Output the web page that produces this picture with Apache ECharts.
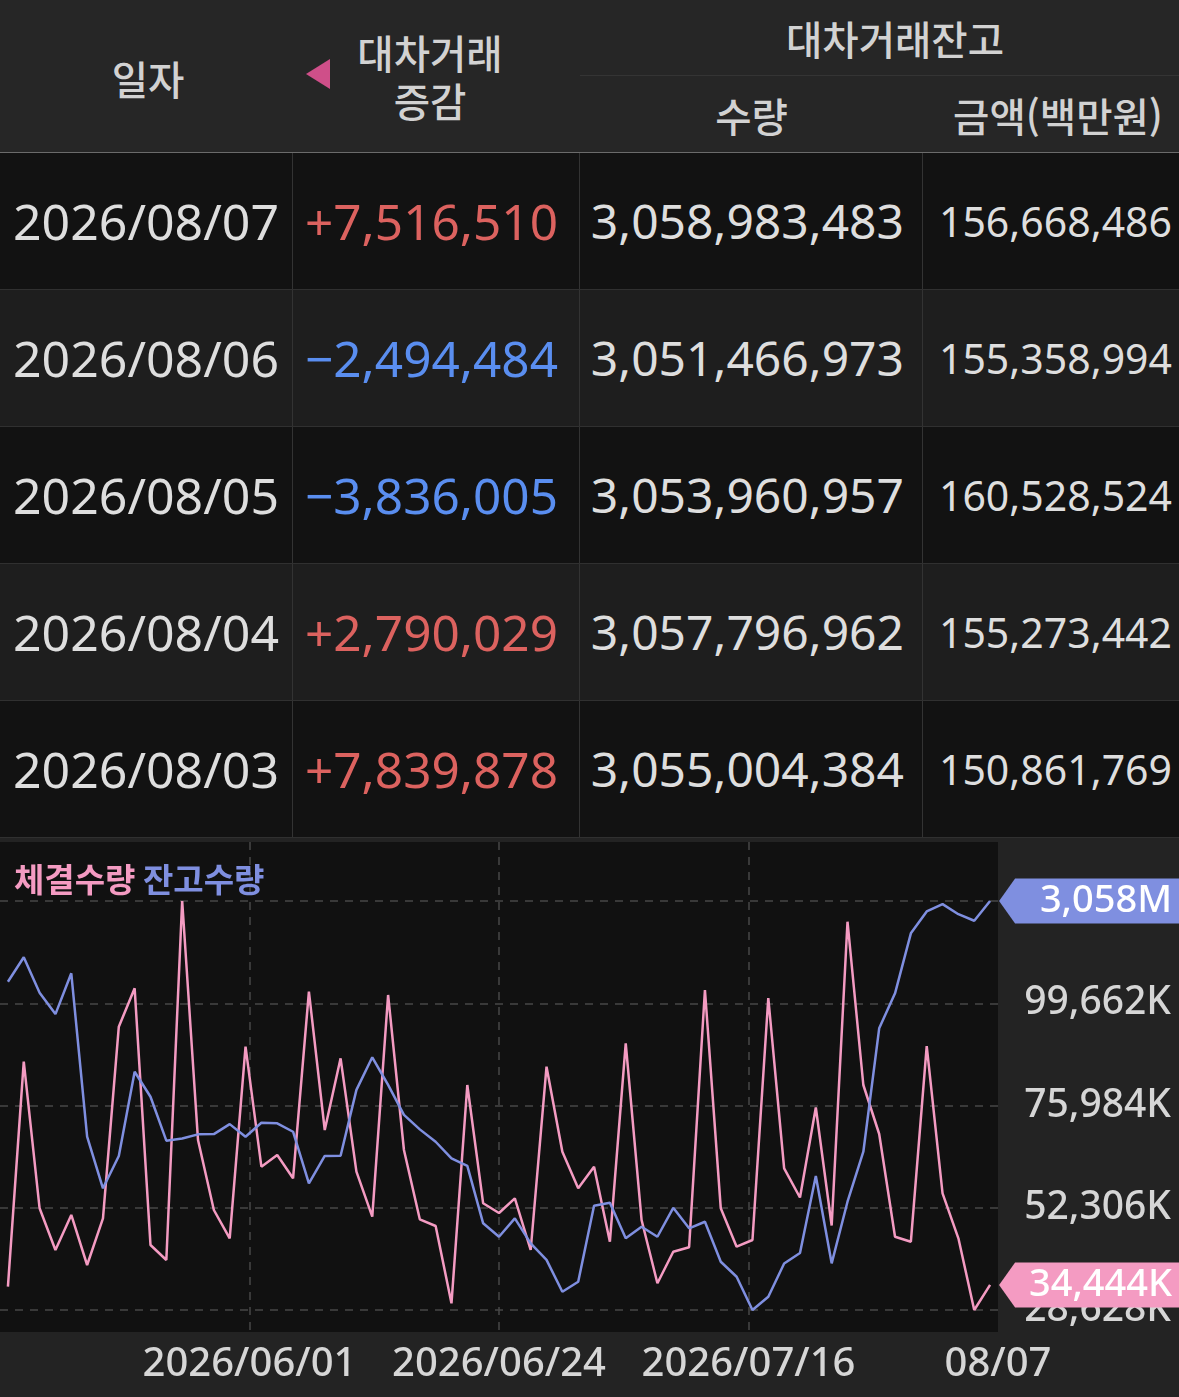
<!DOCTYPE html>
<html lang="ko">
<head>
<meta charset="utf-8">
<title>대차거래</title>
<script src="https://cdn.jsdelivr.net/npm/echarts@6.0.0/dist/echarts.min.js"></script>
<style>
html, body { margin:0; padding:0; background:#232323; }
body { width:1179px; height:1397px; overflow:hidden; position:relative;
       font-family:"Noto Sans","Noto Sans CJK KR",sans-serif; }
#head { position:absolute; left:0; top:0; width:1179px; height:152px; background:#262626;
        border-bottom:1px solid #6b6b6b; color:#d2d2d2; font-family:"Noto Sans CJK KR"; font-size:39.5px; font-weight:500; }
.h { position:absolute; text-align:center; line-height:48px; white-space:nowrap; }
.tri { position:absolute; left:306px; top:59px; width:0; height:0;
       border-top:15px solid transparent; border-bottom:15px solid transparent; border-right:24px solid #cf4f89; }
.subline { position:absolute; left:580px; right:0; top:75px; height:1px; background:#343434; }
#rows { position:absolute; left:0; top:153px; width:1179px; }
.row { position:relative; height:136px; border-bottom:1px solid #303030; }
.row.odd { background:#121212; }
.row.even { background:#1e1e1e; }
.cell { position:absolute; top:0; height:136px; line-height:136px; color:#dedede; white-space:nowrap; box-sizing:border-box; }
.c0 { left:0; width:293px; text-align:center; font-size:50px; border-right:1px solid #333; }
.c1 { left:293px; width:287px; text-align:right; padding-right:21px; font-size:49.5px; border-right:1px solid #333; }
.c2 { left:580px; width:343px; text-align:right; padding-right:18px; font-size:48px; border-right:1px solid #333; }
.c3 { left:923px; width:256px; text-align:right; padding-right:7px; font-size:41px; }
.up { color:#dc625f; }
.down { color:#5a8ef0; }
#chart { position:absolute; left:0; top:838px; width:1179px; height:559px; }
</style>
</head>
<body>
<div id="head">
  <div class="h" style="left:0;width:296px;top:54px;">일자</div>
  <div class="tri"></div>
  <div class="h" style="left:330px;width:200px;top:28px;">대차거래<br>증감</div>
  <div class="h" style="left:745px;width:300px;top:14px;">대차거래잔고</div>
  <div class="subline"></div>
  <div class="h" style="left:580px;width:343px;top:91px;">수량</div>
  <div class="h" style="left:938px;width:240px;top:91px;">금액(백만원)</div>
</div>
<div id="rows"></div>
<div id="chart"></div>
<script>
// table (latest first)
var tableDates = ['2026/08/07', '2026/08/06', '2026/08/05', '2026/08/04', '2026/08/03'];
var tableChange = [7516510, -2494484, -3836005, 2790029, 7839878];
var tableBalQty = [3058983483, 3051466973, 3053960957, 3057796962, 3055004384];
var tableBalAmt = [156668486, 155358994, 160528524, 155273442, 150861769];

// chart: trading days
var dates = [
  '2026/05/08','2026/05/11','2026/05/12','2026/05/13','2026/05/14','2026/05/15','2026/05/18','2026/05/19',
  '2026/05/20','2026/05/21','2026/05/22','2026/05/26','2026/05/27','2026/05/28','2026/05/29','2026/06/01',
  '2026/06/02','2026/06/04','2026/06/05','2026/06/08','2026/06/09','2026/06/10','2026/06/11','2026/06/12',
  '2026/06/15','2026/06/16','2026/06/17','2026/06/18','2026/06/19','2026/06/22','2026/06/23','2026/06/24',
  '2026/06/25','2026/06/26','2026/06/29','2026/06/30','2026/07/01','2026/07/02','2026/07/03','2026/07/06',
  '2026/07/07','2026/07/08','2026/07/09','2026/07/10','2026/07/13','2026/07/14','2026/07/15','2026/07/16',
  '2026/07/20','2026/07/21','2026/07/22','2026/07/23','2026/07/24','2026/07/27','2026/07/28','2026/07/29',
  '2026/07/30','2026/07/31','2026/08/03','2026/08/04','2026/08/05','2026/08/06','2026/08/07'
];
// 체결수량 (K shares)
var execVolK = [
  34024, 86127, 52179, 42522, 50628, 39049, 49863, 94232,
  103124, 43680, 40207, 123340, 67995, 51785, 45231, 89600,
  61812, 64521, 59126, 102337, 70311, 86914, 60654, 50233,
  101573, 65679, 49631, 48080, 30179, 80731, 53336, 51090,
  54494, 42522, 84969, 65286, 56810, 61812, 44444, 90388,
  49469, 34811, 42128, 43148, 102730, 52179, 43286, 44838,
  100878, 61441, 54680, 75521, 48196, 118547, 80731, 69384,
  45602, 44444, 89716, 55652, 45231, 28628, 34444
];
// 잔고수량 (M shares)
var balanceM = [
  3028.3, 3037.6, 3024.1, 3016.0, 3031.5, 2969.4, 2949.8, 2962.1,
  2994.1, 2984.6, 2967.9, 2968.7, 2970.3, 2970.4, 2974.2, 2969.4,
  2974.7, 2974.5, 2971.3, 2951.7, 2962.1, 2962.2, 2987.2, 2999.6,
  2989.1, 2977.7, 2972.2, 2967.5, 2961.2, 2958.3, 2936.5, 2931.4,
  2938.4, 2928.9, 2922.6, 2910.5, 2914.3, 2943.2, 2944.3, 2930.8,
  2935.2, 2931.4, 2942.4, 2934.6, 2937.1, 2921.9, 2916.2, 2903.56,
  2908.6, 2921.2, 2925.2, 2954.5, 2921.3, 2944.7, 2963.7, 3010.6,
  3023.9, 3046.7, 3055.004, 3057.797, 3053.961, 3051.467, 3058.983
];
var volTicksK = [28628, 52306, 75984, 99662, 123340];
var seriesNames = ['체결수량', '잔고수량'];

var PINK = '#f49bc2';
var BLUE = '#7f8fe0';
var fmt = function (v) { return Math.floor(v).toLocaleString('en-US'); };

// build table
var rowsHtml = '';
for (var i = 0; i < tableDates.length; i++) {
  var ch = tableChange[i];
  var chText = (ch >= 0 ? '+' : '\u2212') + Math.abs(ch).toLocaleString('en-US');
  rowsHtml += '<div class="row ' + (i % 2 ? 'even' : 'odd') + '">' +
    '<div class="cell c0">' + tableDates[i] + '</div>' +
    '<div class="cell c1 ' + (ch >= 0 ? 'up' : 'down') + '">' + chText + '</div>' +
    '<div class="cell c2">' + tableBalQty[i].toLocaleString('en-US') + '</div>' +
    '<div class="cell c3">' + tableBalAmt[i].toLocaleString('en-US') + '</div></div>';
}
document.getElementById('rows').innerHTML = rowsHtml;

var chart = echarts.init(document.getElementById('chart'));
var last = dates.length - 1;
var TAG = 'path://M0,22.5L16,0L182,0L182,45L16,45Z';
var font = '"Noto Sans", "Noto Sans CJK KR", sans-serif';
var gridLine = { color: '#474747', type: [8, 7], width: 1.5 };
var keyFont = { fontSize: 33, fontWeight: 'bold', fontFamily: 'Noto Sans CJK KR' };

var option = {
  backgroundColor: '#232323',
  animation: false,
  textStyle: { fontFamily: font },
  title: {
    left: 14, top: 25, padding: 0,
    text: '{p|' + seriesNames[0] + '} {b|' + seriesNames[1] + '}',
    textStyle: {
      fontSize: 33, fontWeight: 'bold', fontFamily: 'Noto Sans CJK KR',
      rich: {
        p: Object.assign({ color: PINK }, keyFont),
        b: Object.assign({ color: BLUE }, keyFont)
      }
    }
  },
  grid: [
    { left: 0, top: 4, width: 998, height: 490, show: true, backgroundColor: '#111111', borderWidth: 0 },
    { left: 0, top: 63, width: 998, height: 409 }
  ],
  xAxis: [
    {
      type: 'value', gridIndex: 0, min: 0, max: 4, interval: 1,
      axisLine: { show: false }, axisTick: { show: false },
      splitLine: { show: true, showMinLine: false, showMaxLine: false, lineStyle: gridLine },
      axisLabel: {
        margin: 13, fontSize: 40, color: '#d6d6d6', fontWeight: 500, showMinLabel: false,
        formatter: function (q) {
          var idx = Math.min(Math.floor(q * dates.length / 4), last);
          return q === 4 ? dates[idx].slice(5) : dates[idx];
        }
      }
    },
    { type: 'category', gridIndex: 1, data: dates, boundaryGap: true, show: false }
  ],
  yAxis: [
    {
      type: 'value', gridIndex: 1, position: 'right',
      min: volTicksK[0], max: volTicksK[volTicksK.length - 1],
      axisLine: { show: false },
      axisTick: { show: false, customValues: volTicksK },
      axisLabel: {
        // top tick sits under the balance tag, so it carries no label
        customValues: volTicksK.slice(0, -1), align: 'right', margin: 173,
        fontSize: 39, color: '#d6d6d6', fontWeight: 500,
        formatter: function (v) { return fmt(v) + 'K'; }
      },
      splitLine: { show: true, lineStyle: gridLine }
    },
    { type: 'value', gridIndex: 1, min: 'dataMin', max: 'dataMax', show: false },
    { type: 'value', gridIndex: 0, min: 0, max: 1, show: false }
  ],
  series: [
    {
      name: seriesNames[0], type: 'line', xAxisIndex: 1, yAxisIndex: 0,
      data: execVolK, symbol: 'none', clip: false, silent: true,
      lineStyle: { color: PINK, width: 2.5 }, itemStyle: { color: PINK },
      emphasis: { disabled: true },
      markPoint: {
        symbol: TAG, symbolSize: [182, 45], symbolOffset: [100, 0], silent: true,
        itemStyle: { color: PINK },
        label: {
          show: true, position: 'insideRight', distance: 9, color: '#ffffff',
          fontSize: 38, fontWeight: 500,
          formatter: function (p) { return fmt(p.value) + 'K'; }
        },
        data: [{ coord: [dates[last], execVolK[last]], value: execVolK[last] }]
      }
    },
    {
      name: seriesNames[1], type: 'line', xAxisIndex: 1, yAxisIndex: 1,
      data: balanceM, symbol: 'none', clip: false, silent: true,
      lineStyle: { color: BLUE, width: 2.5 }, itemStyle: { color: BLUE },
      emphasis: { disabled: true },
      markPoint: {
        symbol: TAG, symbolSize: [182, 45], symbolOffset: [100, 0], silent: true,
        itemStyle: { color: BLUE },
        label: {
          show: true, position: 'insideRight', distance: 9, color: '#ffffff',
          fontSize: 38, fontWeight: 500,
          formatter: function (p) { return fmt(p.value) + 'M'; }
        },
        data: [{ coord: [dates[last], balanceM[last]], value: balanceM[last] }]
      }
    }
  ]
};
chart.setOption(option);
</script>
</body>
</html>
